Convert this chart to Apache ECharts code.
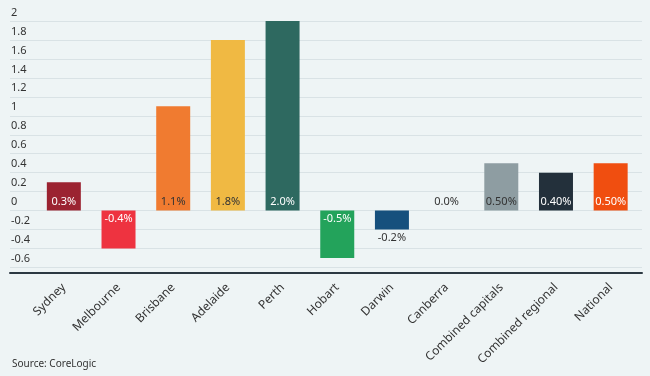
<!DOCTYPE html>
<html>
<head>
<meta charset="utf-8">
<script src="https://cdn.jsdelivr.net/npm/echarts@6/dist/echarts.min.js"></script>
<style>
  html, body { margin: 0; padding: 0; background: #eef4f5; }
  #chart { width: 650px; height: 376px; }
</style>
</head>
<body>
<div id="chart"></div>
<script>
// values (percent change)
const cities = ['Sydney', 'Melbourne', 'Brisbane', 'Adelaide', 'Perth', 'Hobart', 'Darwin', 'Canberra', 'Combined capitals', 'Combined regional', 'National']
const change = [0.3, -0.4, 1.1, 1.8, 2.0, -0.5, -0.2, 0.0, 0.5, 0.4, 0.5]
const labels = ['0.3%', '-0.4%', '1.1%', '1.8%', '2.0%', '-0.5%', '-0.2%', '0.0%', '0.50%', '0.40%', '0.50%']

const barColors = ['#9b2331', '#ee3340', '#f07b30', '#f0b943', '#2e6960', '#23a35b', '#16507d', '#eef4f5', '#8e9da2', '#23303b', '#f04e10']
const labelColors = ['#fff', '#fff', '#333', '#333', '#fff', '#fff', '#333', '#333', '#333', '#fff', '#fff']
const fontFamily = 'Noto Sans'

const chart = echarts.init(document.getElementById('chart'))

const barData = change.map((v, i) => {
  let pos = v > 0 ? 'insideBottom' : 'insideTop'
  if (cities[i] === 'Darwin') pos = 'bottom'
  if (v === 0) pos = 'top'
  return {
    value: v,
    itemStyle: { color: barColors[i] },
    label: { position: pos, color: labelColors[i], formatter: labels[i] }
  }
})

const option = {
  backgroundColor: '#eef4f5',
  animation: false,
  textStyle: { fontFamily: fontFamily },
  title: {
    text: 'Source: CoreLogic',
    left: 7,
    top: 354,
    textStyle: { fontSize: 10, fontWeight: 'normal', color: '#333', fontFamily: fontFamily }
  },
  grid: [
    { left: 10, right: 8, top: 21, bottom: 108.5 },
    // bars sit in an inner grid so the gridlines can run wider than the bars
    { left: 36.5, right: 12, top: 21, bottom: 108.5 }
  ],
  xAxis: [
    {
      gridIndex: 0,
      type: 'category',
      data: cities,
      offset: 5,
      axisLine: { onZero: false, lineStyle: { color: '#2c3942', width: 2 } },
      axisTick: { show: false },
      axisLabel: { show: false }
    },
    {
      gridIndex: 1,
      type: 'category',
      data: cities,
      offset: 6,
      axisLine: { show: false, onZero: false },
      axisTick: { show: false },
      axisLabel: {
        rotate: 45,
        margin: 12,
        interval: 0,
        fontSize: 12,
        color: '#333',
        fontFamily: fontFamily
      }
    }
  ],
  yAxis: [
    {
      gridIndex: 0,
      type: 'value',
      min: -0.6,
      max: 2,
      interval: 0.2,
      axisLine: { show: false },
      axisTick: { show: false },
      splitLine: { lineStyle: { color: '#d9e2e5', width: 1 } },
      axisLabel: {
        inside: true,
        margin: 1,
        verticalAlign: 'bottom',
        padding: [0, 0, 3, 0],
        fontSize: 11,
        color: '#333',
        fontFamily: fontFamily
      }
    },
    {
      gridIndex: 1,
      type: 'value',
      min: -0.6,
      max: 2,
      show: false
    }
  ],
  series: [
    {
      type: 'bar',
      xAxisIndex: 1,
      yAxisIndex: 1,
      data: barData,
      barWidth: 34,
      label: {
        show: true,
        fontSize: 11,
        distance: 3,
        fontFamily: fontFamily
      }
    }
  ]
}

chart.setOption(option)
</script>
</body>
</html>
